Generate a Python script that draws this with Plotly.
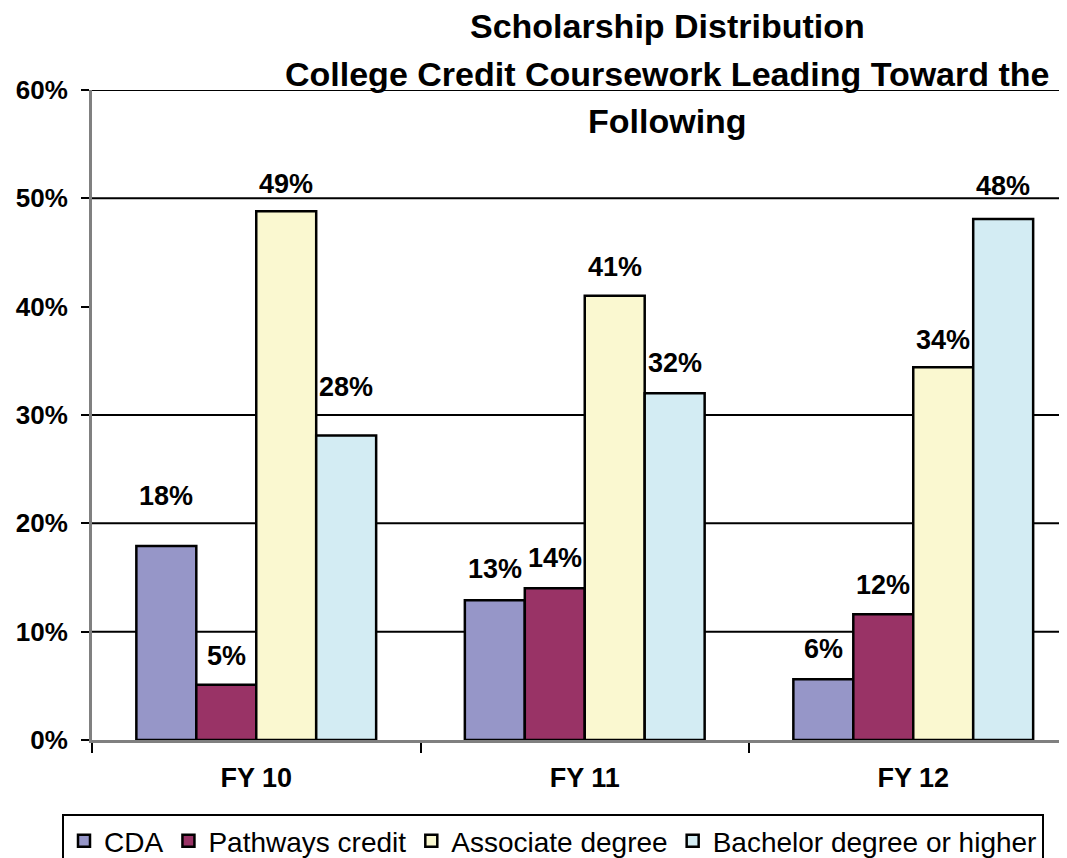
import plotly.graph_objects as go

# ---- data ----
categories = ["FY 10", "FY 11", "FY 12"]
series_names = ["CDA", "Pathways credit", "Associate degree", "Bachelor degree or higher"]
cda = [0.179, 0.129, 0.056]
pathways = [0.051, 0.140, 0.116]
associate = [0.488, 0.410, 0.344]
bachelor = [0.281, 0.320, 0.481]
y_tick_values = [0, 0.1, 0.2, 0.3, 0.4, 0.5, 0.6]
y_tick_labels = ["0%", "10%", "20%", "30%", "40%", "50%", "60%"]
grid_values = [0.1, 0.2, 0.3, 0.5, 0.6]
title_lines = ["Scholarship Distribution",
               "College Credit Coursework Leading Toward the",
               "Following"]

# ---- style ----
colors = ["#9696C8", "#993366", "#FAF8D0", "#D3ECF3"]
label_lift = [[50, 31, 30], [29, 30, 29], [27, 29, 27], [49, 30, 33]]  # px above bar top
FONT = "Arial, Liberation Sans, sans-serif"
BARGAP = 0.27
PAGE_PAD = 8            # browser default body margin
W, H = 1067 - PAGE_PAD, 858 - PAGE_PAD
ML, MT, MB = 84, 82, 118
PLOT_W, PLOT_H = W - ML, H - MT - MB
CAT_PX = 328.5          # pixel width of one category
LEGEND_TOP = 814        # page px

series_values = [cda, pathways, associate, bachelor]

fig = go.Figure()
for name, vals, col in zip(series_names, series_values, colors):
    fig.add_trace(go.Bar(
        name=name, x=categories, y=vals,
        marker=dict(color=col, line=dict(color="black", width=2.5)),
        hoverinfo="skip",
    ))

# data labels
n = len(series_values)
slot = (1 - BARGAP) / n
for i, vals in enumerate(series_values):
    for j, v in enumerate(vals):
        fig.add_annotation(
            x=j + (i - (n - 1) / 2) * slot, y=v, xref="x", yref="y",
            text=f"{v:.0%}", showarrow=False, yanchor="middle",
            yshift=label_lift[i][j],
            font=dict(family=FONT, size=27, color="black", weight="bold"),
        )

# title, one annotation per line
for k, line in enumerate(title_lines):
    fig.add_annotation(
        text=line, xref="paper", yref="paper",
        x=(667 - PAGE_PAD - ML) / PLOT_W, y=1, xanchor="center", yanchor="middle",
        yshift=64 - 47.5 * k, showarrow=False,
        font=dict(family=FONT, size=34, color="black", weight="bold"),
    )

for g in grid_values:
    fig.add_shape(type="line", xref="paper", x0=0, x1=1, yref="y", y0=g, y1=g,
                  line=dict(color="black", width=2), layer="below")

fig.update_layout(
    width=W, height=H,
    margin=dict(l=ML, r=0, t=MT, b=MB, autoexpand=False),
    paper_bgcolor="white", plot_bgcolor="white",
    barmode="group", bargap=BARGAP, bargroupgap=0,
    showlegend=True,
    legend=dict(orientation="h", x=(62 - PAGE_PAD - ML) / PLOT_W, xanchor="left",
                y=-(LEGEND_TOP - PAGE_PAD - MT - PLOT_H) / PLOT_H, yanchor="top",
                bordercolor="black", borderwidth=2, itemwidth=30,
                font=dict(family=FONT, size=28, color="black"),
                traceorder="normal", itemclick=False),
    xaxis=dict(type="category", range=[-0.5, -0.5 + PLOT_W / CAT_PX],
               showline=True, linecolor="#808080", linewidth=3,
               ticks="outside", tickson="boundaries", ticklen=10,
               tickcolor="black", tickwidth=2, showgrid=False,
               tickfont=dict(family=FONT, size=27, color="black", weight="bold"),
               ticklabelstandoff=12),
    yaxis=dict(range=[0, 0.6], tickvals=y_tick_values, ticktext=y_tick_labels,
               showline=True, linecolor="#808080", linewidth=3,
               ticks="outside", ticklen=8, tickcolor="black", tickwidth=2,
               showgrid=False, zeroline=False,
               tickfont=dict(family=FONT, size=26, color="black", weight="bold"),
               ticklabelstandoff=8),
)

fig.write_html("out.html")
